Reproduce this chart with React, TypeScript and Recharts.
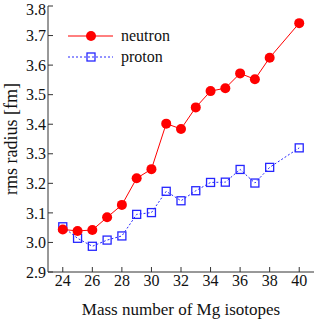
import React from "react";
import { LineChart, Line, XAxis, YAxis } from "recharts";

const massNumbers = [24, 25, 26, 27, 28, 29, 30, 31, 32, 33, 34, 35, 36, 37, 38, 40];
const neutronRadius = [3.044, 3.039, 3.042, 3.085, 3.127, 3.217, 3.248, 3.402, 3.384, 3.457, 3.512, 3.522, 3.572, 3.552, 3.625, 3.742];
const protonRadius = [3.053, 3.014, 2.987, 3.008, 3.022, 3.095, 3.101, 3.173, 3.141, 3.175, 3.203, 3.204, 3.247, 3.201, 3.254, 3.32];
const xTicks = [24, 26, 28, 30, 32, 34, 36, 38, 40];
const yTicks = [2.9, 3.0, 3.1, 3.2, 3.3, 3.4, 3.5, 3.6, 3.7, 3.8];

const data = massNumbers.map((a, i) => ({ a, neutron: neutronRadius[i], proton: protonRadius[i] }));

const RED = "#ff0000";
const BLUE = "#2626ff";
const FRAME = "#333";
const font = "Liberation Serif";
const tickStyle = { fill: "#111", fontSize: 16 };

// open square marker for the proton series
function Square(props: any) {
  const { cx, cy, key } = props;
  if (cx == null || cy == null) return <g key={key} />;
  return <rect key={key} x={cx - 4} y={cy - 4} width={8} height={8} fill="none" stroke={BLUE} strokeWidth={1.3} />;
}

function LegendBox() {
  return (
    <svg width={130} height={50} style={{ position: "absolute", left: 60, top: 22, fontFamily: font }}>
      <line x1={8} x2={53} y1={14} y2={14} stroke={RED} strokeWidth={1} />
      <circle cx={31} cy={14} r={5} fill={RED} />
      <text x={61} y={19} fontSize={16} fill="#111">neutron</text>
      <line x1={8} x2={53} y1={35} y2={35} stroke={BLUE} strokeWidth={1} strokeDasharray="2 2" />
      <rect x={27} y={31} width={8} height={8} fill="none" stroke={BLUE} strokeWidth={1.3} />
      <text x={61} y={40} fontSize={16} fill="#111">proton</text>
    </svg>
  );
}

export default function App() {
  return (
    <div style={{ position: "absolute", left: 0, top: 0, width: 316, height: 319, background: "#fff", fontFamily: font }}>
      <LineChart width={316} height={319} data={data} margin={{ top: 6, right: 2, left: 0, bottom: 0 }} style={{ fontFamily: font }}>
        <XAxis
          xAxisId="b"
          dataKey="a"
          type="number"
          domain={[23, 41]}
          ticks={xTicks}
          height={47}
          tickSize={-5}
          tickMargin={8}
          stroke={FRAME}
          tick={tickStyle}
          label={{ value: "Mass number of Mg isotopes", position: "insideBottom", offset: 4, style: { fontSize: 17, fill: "#111" } }}
        />
        <XAxis
          xAxisId="t"
          dataKey="a"
          type="number"
          orientation="top"
          domain={[23, 41]}
          ticks={xTicks}
          height={0}
          mirror
          tickSize={5}
          stroke={FRAME}
          tickFormatter={() => ""}
        />
        <YAxis
          yAxisId="l"
          type="number"
          domain={[2.9, 3.8]}
          ticks={yTicks}
          width={48}
          tickSize={-5}
          tickMargin={7}
          stroke={FRAME}
          tick={tickStyle}
          tickFormatter={(v: number) => v.toFixed(1)}
          label={{ value: "rms radius [fm]", angle: -90, position: "insideLeft", offset: 11, style: { textAnchor: "middle", fontSize: 18, fill: "#111" } }}
        />
        <YAxis
          yAxisId="r"
          type="number"
          orientation="right"
          domain={[2.9, 3.8]}
          ticks={yTicks}
          width={0}
          mirror
          tickSize={5}
          stroke={FRAME}
          tickFormatter={() => ""}
        />
        <Line
          xAxisId="b"
          yAxisId="l"
          dataKey="proton"
          stroke={BLUE}
          strokeWidth={1}
          strokeDasharray="2 2"
          dot={Square}
          isAnimationActive={false}
        />
        <Line
          xAxisId="b"
          yAxisId="l"
          dataKey="neutron"
          stroke={RED}
          strokeWidth={1}
          dot={{ r: 5, fill: RED, stroke: RED, strokeWidth: 0 }}
          isAnimationActive={false}
        />
      </LineChart>
      <LegendBox />
    </div>
  );
}
